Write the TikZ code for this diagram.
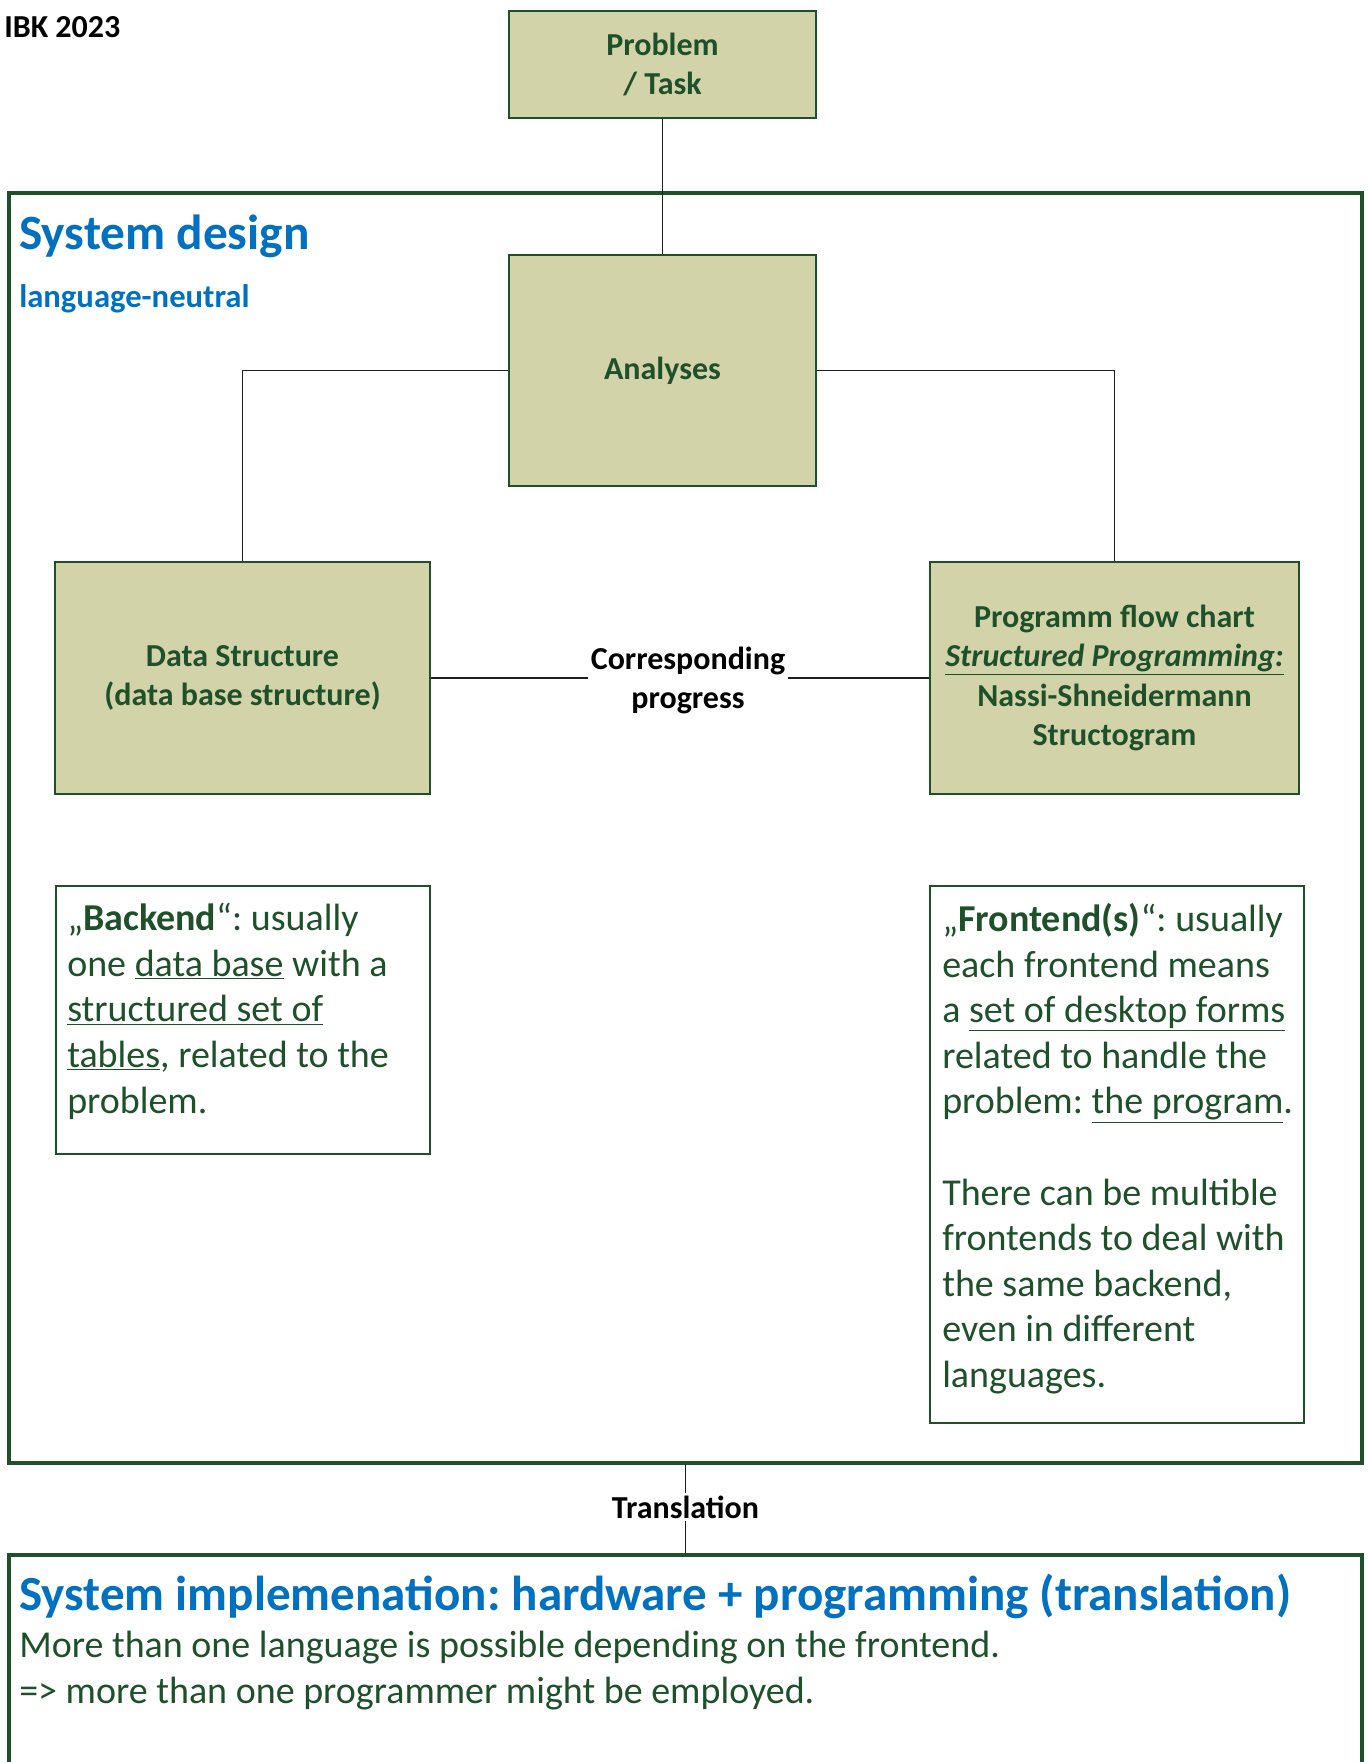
\documentclass[tikz,border=0pt]{standalone}
\usepackage{fontspec}
\setmainfont{Carlito}
\definecolor{boxfill}{RGB}{211,211,170}
\definecolor{deepgreen}{RGB}{30,80,42}
\definecolor{titleblue}{RGB}{0,112,192}
\definecolor{wirecol}{RGB}{30,30,30}
\frenchspacing
\begin{document}
\begin{tikzpicture}[x=0.75pt,y=-0.75pt,
  box/.style={draw=deepgreen, fill=boxfill, line width=1.1pt, inner sep=0pt,
    text=deepgreen, align=center, font=\fontsize{24}{29.3}\selectfont\bfseries},
  bigframe/.style={draw=deepgreen, line width=2.4pt, inner sep=0pt},
  notebox/.style={draw=deepgreen, line width=1pt, inner sep=0pt},
  notetext/.style={anchor=north west, inner sep=0pt, align=left, text=deepgreen,
    font=\fontsize{28.5}{34.2}\selectfont},
  wire/.style={draw=wirecol, line width=1pt},
  tag/.style={inner sep=2pt, align=center, text=black,
    font=\fontsize{24}{29.3}\selectfont\bfseries},
  plain/.style={anchor=west, inner sep=0pt}
]
\useasboundingbox (0,0) rectangle (1368,1762);

% outer frames
\node[bigframe, minimum width=1014.75pt, minimum height=952.5pt] (design) at (685.5,828) {};
\node[bigframe, minimum width=1014.75pt, minimum height=213.75pt] (impl) at (685.5,1697.5) {};

% header texts
\node[plain, text=black, font=\fontsize{24}{29}\selectfont\bfseries] (ibk) at (4,27) {IBK 2023};
\node[plain, text=titleblue, font=\fontsize{37}{44}\selectfont\bfseries] (dtitle) at (19,236) {System design};
\node[plain, text=titleblue, font=\fontsize{24.5}{29}\selectfont\bfseries] (neutral) at (19,299) {language-neutral};

% process boxes
\node[box, minimum width=230.25pt, minimum height=80.25pt] (prob) at (662.5,64.5) {Problem\\/ Task};
\node[box, minimum width=230.25pt, minimum height=173.25pt] (anal) at (662.5,370.5) {Analyses};
\node[box, minimum width=281.25pt, minimum height=174pt] (data) at (242.5,678) {Data Structure\\(data base structure)};
\node[box, minimum width=276.75pt, minimum height=174pt] (prog) at (1114.5,678) {Programm flow chart\\\underline{\itshape Structured Programming:}\\Nassi-Shneidermann\\Structogram};

% connectors
\draw[wire] (prob.south) -- (anal.north);
\draw[wire] (anal.west) -| (data.north);
\draw[wire] (anal.east) -| (prog.north);

\node[tag] (cp) at (688,680.5) {Corresponding\\progress};
\draw[wire] (data.east) -- (data.east -| cp.west);
\draw[wire] (data.east -| cp.east) -- (prog.west);

\node[tag] (tr) at (685.5,1507) {Translation};
\draw[wire] (design.south) -- (tr.north);
\draw[wire] (tr.south) -- (impl.north);

% note boxes
\node[notebox, minimum width=280.5pt, minimum height=201pt] (back) at (243,1020) {};
\node[notetext] (backtxt) at (67,903) {„\textbf{Backend}“: usually\\
one \underline{data base} with a\\
\underline{structured set of}\\
\underline{tables}, related to the\\
problem.};

\node[notebox, minimum width=280.5pt, minimum height=402.75pt] (front) at (1117,1154.5) {};
\node[notetext] (fronttxt) at (942,903) {„\textbf{Frontend(s)}“: usually\\
each frontend means\\
a \underline{set of desktop forms}\\
related to handle the\\
problem: \underline{the program}.\\[34.2pt]
There can be multible\\
frontends to deal with\\
the same backend,\\
even in different\\
languages.};

% implementation texts
\node[plain, text=titleblue, font=\fontsize{36.8}{44}\selectfont\bfseries] (ititle) at (19,1596) {System implemenation: hardware + programming (translation)};
\node[plain, text=deepgreen, font=\fontsize{28.5}{34}\selectfont] (line1) at (19,1648) {More than one language is possible depending on the frontend.};
\node[plain, text=deepgreen, font=\fontsize{28.5}{34}\selectfont] (line2) at (19,1694) {=> more than one programmer might be employed.};
\end{tikzpicture}
\end{document}
